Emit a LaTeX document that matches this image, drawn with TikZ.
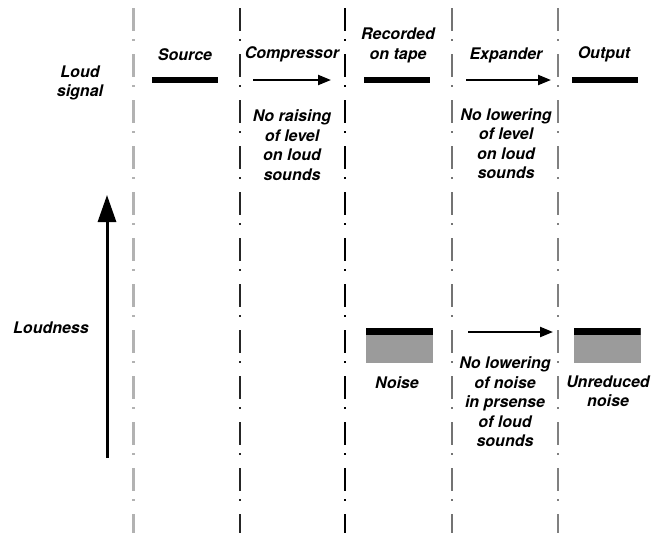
\documentclass[tikz,border=0pt]{standalone}
\usepackage{fontspec}
\setmainfont{TeX Gyre Heros}
\usetikzlibrary{arrows.meta}
\definecolor{noisegray}{RGB}{155,155,155}
\tikzset{
   lbl/.style={font=\fontsize{16}{19.5}\selectfont\bfseries\itshape, align=center, inner sep=0pt},
   lvlbar/.style={fill=black, minimum width=66pt, minimum height=6pt, inner sep=0pt},
   noisebox/.style={fill=noisegray, minimum width=67pt, minimum height=35pt, inner sep=0pt,
      path picture={\fill[black] (path picture bounding box.north west) rectangle ([yshift=-7pt]path picture bounding box.north east);}},
   divider/.style={dash pattern=on 23pt off 8pt on 2pt off 13pt},
   flow/.style={-{Triangle[length=13pt,width=10pt]}, line width=2.2pt},
}
\begin{document}
\begin{tikzpicture}[x=1pt, y=-1pt]
   \useasboundingbox (0,0) rectangle (657,533);
   % stage dividers
   \foreach \x/\c/\w in {133/black!30/3pt, 240/black!85/2pt, 345/black/2pt, 452/black!55/1.5pt, 558/black!50/1.5pt} {
      \draw[divider, draw=\c, line width=\w] (\x, 8) -- (\x, 533);
   }
   % left labels and loudness axis
   \node[lbl] (loud) at (80, 83) {Loud\\signal};
   \node[lbl] (loudness) at (51, 328) {Loudness};
   \coordinate (axtail) at (107, 458);
   \coordinate (axhead) at (107, 195);
   \draw[-{Triangle[length=27pt,width=18pt]}, line width=3pt] (axtail) -- (axhead);
   % column headings
   \node[lbl] (src) at (185, 54.5) {Source};
   \node[lbl] (comp) at (292, 54.5) {Compressor};
   \node[lbl] (rec) at (398, 45.5) {Recorded\\on tape};
   \node[lbl] (exp) at (506, 55) {Expander};
   \node[lbl] (out) at (604, 54.5) {Output};
   % loud signal row
   \node[lvlbar] (srcbar) at (185, 80) {};
   \node[lvlbar] (recbar) at (397, 80) {};
   \node[lvlbar] (outbar) at (605, 80) {};
   \coordinate (comp1) at (253, 80);
   \coordinate (comp2) at (331, 80);
   \draw[flow] (comp1) -- (comp2);
   \coordinate (exp1) at (466, 80);
   \coordinate (exp2) at (551, 80);
   \draw[flow] (exp1) -- (exp2);
   \node[lbl] (compnote) at (292, 145) {No raising\\of level\\on loud\\sounds};
   \node[lbl] (expnote) at (506, 143.5) {No lowering\\of level\\on loud\\sounds};
   % noise row
   \node[noisebox] (noise) at (399.5, 345.5) {};
   \node[noisebox] (unred) at (607, 345.5) {};
   \coordinate (nexp1) at (468, 332);
   \coordinate (nexp2) at (553, 332);
   \draw[flow] (nexp1) -- (nexp2);
   \node[lbl] (noiselbl) at (397, 383) {Noise};
   \node[lbl] (noisenote) at (505, 402) {No lowering\\of noise\\in prsense\\of loud\\sounds};
   \node[lbl] (unredlbl) at (608, 391) {Unreduced\\noise};
\end{tikzpicture}
\end{document}
